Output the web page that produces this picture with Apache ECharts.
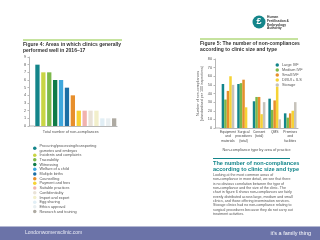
<!DOCTYPE html>
<html>
<head>
<meta charset="utf-8">
<script src="https://cdn.jsdelivr.net/npm/echarts@6/dist/echarts.min.js"></script>
<style>
  html, body { margin: 0; padding: 0; background: #fff; }
  #chart { width: 320px; height: 240px; }
</style>
</head>
<body>
<div id="chart"></div>
<script>
  // Figure 4 data
  const areaNames = [
    'Procuring/processing/transporting\ngametes and embryos',
    'Incidents and complaints',
    'Traceability',
    'Witnessing',
    'Welfare of a child',
    'Multiple births',
    'Counselling',
    'Payment and fees',
    'Suitable practices',
    'Confidentiality',
    'Import and export',
    'Egg sharing',
    'Ethics approval',
    'Research and training'
  ]
  const areaValues = [8, 7, 7, 6, 6, 5, 4, 2, 2, 2, 2, 1, 1, 1]
  const areaColors = ['#13858a', '#c9d544', '#7cb84a', '#0f7b47', '#3fa7dc', '#1b6ea5', '#e78f2c',
    '#f6d335', '#f1b3ae', '#e9e2d7', '#f2efcb', '#e1eef5', '#e9eff1', '#aeaaa2']

  // Figure 5 data
  const practiceAreas = ['Equipment\nand\nmaterials', 'Surgical\nprocedures\n(total)', 'Consent\n(total)', 'QMS', 'Premises\nand\nfacilities']
  const clinicTypes = ['Large IVF', 'Medium IVF', 'Small IVF', 'DI/IUI + ILS', 'Storage']
  const largeIVF = [51, 51, 31, 34, 17]
  const mediumIVF = [33, 52, 36, 21, 12]
  const smallIVF = [43, 56, 36, 32, 17]
  const diIui = [60, 24, 16, 48, 20]
  const storage = [50, 0, 30, 10, 30]
  const clinicColors = ['#13858a', '#7cb84a', '#e78f2c', '#f6d335', '#c7c3bb']

  const paragraph = [
    'Looking at the most common areas of',
    'non-compliance in more detail, we see that there',
    'is no obvious correlation between the type of',
    'non-compliance and the size of the clinic. The',
    'chart in figure 6 shows non-compliances are fairly',
    'evenly distributed across large, medium and small',
    'clinics, and those offering insemination services.',
    'Storage clinics had no non-compliance relating to',
    'surgical procedures because they do not carry out',
    'treatment activities.'
  ]

  const font = 'Liberation Sans'
  const chart = echarts.init(document.getElementById('chart'))

  // one stacked series per area so the legend works natively
  const areaSeries = areaNames.map((name, i) => ({
    name,
    type: 'bar',
    stack: 'areas',
    xAxisIndex: 0,
    yAxisIndex: 0,
    barWidth: 4.3,
    itemStyle: { color: areaColors[i] },
    data: areaValues.map((v, j) => (j === i ? v : null))
  }))

  const clinicData = [largeIVF, mediumIVF, smallIVF, diIui, storage]
  const clinicSeries = clinicTypes.map((name, i) => ({
    name,
    type: 'bar',
    xAxisIndex: 1,
    yAxisIndex: 1,
    barGap: 0,
    barCategoryGap: '19%',
    itemStyle: { color: clinicColors[i] },
    data: clinicData[i]
  }))

  const smallAxis = {
    axisLine: { show: true, lineStyle: { color: '#888', width: 0.6 } },
    axisTick: { show: true, length: 1.5, lineStyle: { color: '#888', width: 0.6 } },
    splitLine: { show: false },
    axisLabel: { fontSize: 3.8, color: '#555', fontFamily: font, margin: 3 }
  }
  const baseLine = { stroke: '#888', lineWidth: 0.6 }

  chart.setOption({
    animation: false,
    textStyle: { fontFamily: font },
    grid: [
      { left: 34.5, top: 57, width: 82.6, height: 69 },
      { left: 220.2, top: 59, width: 77.8, height: 69 }
    ],
    xAxis: [
      {
        gridIndex: 0,
        type: 'category',
        data: areaNames,
        axisLine: { lineStyle: { color: '#888', width: 0.6 } },
        axisTick: { show: false },
        axisLabel: { show: false },
        name: 'Total number of non-compliances',
        nameLocation: 'middle',
        nameGap: 4,
        nameTextStyle: { fontSize: 3.8, color: '#555', padding: [0, 10, 0, 0] }
      },
      {
        gridIndex: 1,
        type: 'category',
        data: practiceAreas,
        axisLine: { lineStyle: { color: '#888', width: 0.6 } },
        axisTick: { show: false },
        axisLabel: { fontSize: 3.3, lineHeight: 4.3, color: '#444', margin: 2, interval: 0, hideOverlap: false },
        name: 'Non-compliance type by area of practice',
        nameLocation: 'middle',
        nameGap: 20,
        nameTextStyle: { fontSize: 3.8, color: '#555', padding: [0, 5, 0, 0] }
      }
    ],
    yAxis: [
      Object.assign({ gridIndex: 0, type: 'value', min: 0, max: 9, interval: 1, offset: 5.5 }, smallAxis),
      Object.assign({
        gridIndex: 1, type: 'value', min: 0, max: 80, interval: 10, offset: 5.2,
        name: 'Number of non-compliances\n(standardised per 100 inspections)',
        nameLocation: 'middle',
        nameGap: 9,
        nameTextStyle: { fontSize: 3.6, lineHeight: 4, color: '#555' }
      }, smallAxis)
    ],
    legend: [
      {
        data: areaNames,
        orient: 'vertical',
        left: 28,
        top: 139,
        icon: 'circle',
        itemWidth: 3.5,
        itemHeight: 3.5,
        itemGap: 0.4,
        textStyle: { fontSize: 3.8, lineHeight: 4.3, color: '#555', padding: [0, 0, 0, -2] }
      },
      {
        data: clinicTypes,
        orient: 'vertical',
        left: 270.5,
        top: 58,
        icon: 'circle',
        itemWidth: 3.5,
        itemHeight: 3.5,
        itemGap: 1,
        textStyle: { fontSize: 3.8, lineHeight: 4, color: '#555', padding: [0, 0, 0, -2] }
      }
    ],
    series: areaSeries.concat(clinicSeries),
    graphic: [
      // extend the baselines to the offset y axes
      { type: 'line', shape: { x1: 29, y1: 126, x2: 34.5, y2: 126 }, style: baseLine },
      { type: 'line', shape: { x1: 215, y1: 128, x2: 220.2, y2: 128 }, style: baseLine },
      // left title
      { type: 'line', shape: { x1: 23, y1: 40, x2: 122, y2: 40 }, style: { stroke: '#8cc63f', lineWidth: 1 } },
      { type: 'text', left: 23, top: 42, style: { text: 'Figure 4: Areas in which clinics generally\nperformed well in 2016–17', font: 'bold 5px ' + font, lineHeight: 6, fill: '#333' } },
      // right title
      { type: 'line', shape: { x1: 200, y1: 39, x2: 298, y2: 39 }, style: { stroke: '#8cc63f', lineWidth: 1 } },
      { type: 'text', left: 200, top: 41, style: { text: 'Figure 5: The number of non-compliances\naccording to clinic size and type', font: 'bold 5px ' + font, lineHeight: 6, fill: '#333' } },
      // logo
      { type: 'circle', shape: { cx: 259, cy: 22, r: 6.5 }, style: { fill: '#13858a' } },
      { type: 'text', x: 259, y: 22, style: { text: '£', font: 'bold 9px ' + font, fill: '#fff', align: 'center', verticalAlign: 'middle' } },
      { type: 'text', left: 267, top: 15.5, style: { text: 'Human\nFertilisation &\nEmbryology\nAuthority', font: 'bold 3.3px ' + font, lineHeight: 3.7, fill: '#333' } },
      // section below figure 5
      { type: 'line', shape: { x1: 213, y1: 158.5, x2: 290, y2: 158.5 }, style: { stroke: '#13858a', lineWidth: 1 } },
      { type: 'text', left: 213, top: 160.5, style: { text: 'The number of non-compliances\naccording to clinic size and type', font: 'bold 5.6px ' + font, lineHeight: 6, fill: '#13858a' } },
      { type: 'text', left: 213, top: 173, style: { text: paragraph.join('\n'), font: '3.6px ' + font, lineHeight: 4.3, fill: '#555' } },
      // footer
      { type: 'rect', shape: { x: 0, y: 226.5, width: 320, height: 14 }, style: { fill: '#6b73a8' } },
      { type: 'text', left: 25, top: 230.5, style: { text: 'Londonwomensclinic.com', font: '5px ' + font, fill: '#e8eaf4' } },
      { type: 'text', right: 9, top: 230, style: { text: 'it\u2019s a family thing', font: '5.5px ' + font, fill: '#ffffff' } }
    ]
  })
</script>
</body>
</html>
